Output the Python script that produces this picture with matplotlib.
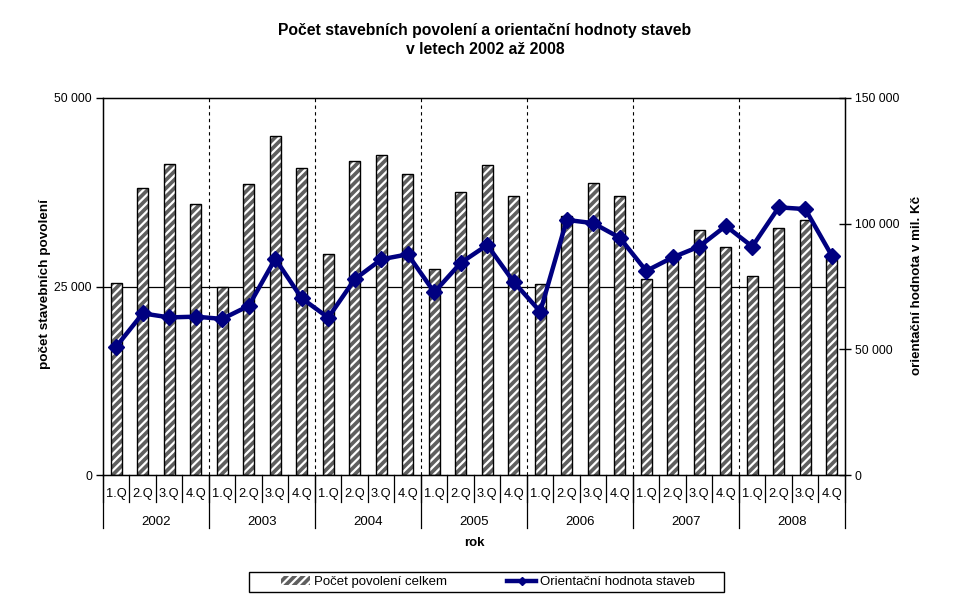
import matplotlib
matplotlib.use("Agg")
import matplotlib.pyplot as plt
import matplotlib.transforms as mtransforms
from matplotlib.ticker import FuncFormatter
from matplotlib.patches import Patch, Rectangle
from matplotlib.lines import Line2D

plt.rcParams['font.family'] = ['Liberation Sans', 'DejaVu Sans']
plt.rcParams['hatch.linewidth'] = 1.6

years = ["2002", "2003", "2004", "2005", "2006", "2007", "2008"]
quarters = ["1.Q", "2.Q", "3.Q", "4.Q"]

povoleni = [25400, 38000, 41200, 35900,
            24900, 38600, 44900, 40700,
            29300, 41700, 42500, 39900,
            27300, 37500, 41100, 37000,
            25300, 34400, 38700, 37000,
            26000, 28600, 32500, 30200,
            26400, 32800, 33800, 29000]

hodnota = [51100, 64300, 62700, 63000,
           62100, 67300, 86000, 70300,
           62600, 77900, 85800, 87800,
           72700, 84400, 91500, 76800,
           65000, 101500, 100200, 94400,
           81200, 86600, 90900, 99100,
           90900, 106500, 105800, 87300]

title = "Počet stavebních povolení a orientační hodnoty staveb\nv letech 2002 až 2008"
ylabel_left = "počet stavebních povolení"
ylabel_right = "orientační hodnota v mil. Kč"
xlabel = "rok"
legend_bar = "Počet povolení celkem"
legend_line = "Orientační hodnota staveb"

n = len(povoleni)
x = list(range(n))
nq = len(quarters)

fig = plt.figure(figsize=(9.7, 6.03), dpi=100)
ax = fig.add_axes([103/970, 1-475/603, (845-103)/970, (475-98)/603])

bar_color = '#5f5f5f'
ax.bar(x, povoleni, width=0.42, color=bar_color, edgecolor='white', hatch='////', linewidth=0, zorder=2)
ax.bar(x, povoleni, width=0.42, fill=False, edgecolor='black', linewidth=1.0, zorder=3)

ax.set_xlim(-0.5, n - 0.5)
ax.set_ylim(0, 50000)
ax.set_yticks([0, 25000, 50000])
fmt = FuncFormatter(lambda v, p: f"{int(v):,}".replace(",", " "))
ax.yaxis.set_major_formatter(fmt)
ax.tick_params(axis='y', direction='out', length=5, width=1, labelsize=8.8, pad=3)
ax.axhline(25000, color='black', linewidth=0.9, zorder=1)

for i in range(1, len(years)):
    ax.axvline(i*nq - 0.5, color='black', linewidth=0.8, linestyle=(0, (3, 3)), zorder=1)

ax.set_xticks([])
for s in ax.spines.values():
    s.set_linewidth(1.0)
    s.set_color('black')

ax2 = ax.twinx()
ax2.set_ylim(0, 150000)
ax2.set_yticks([0, 50000, 100000, 150000])
ax2.yaxis.set_major_formatter(fmt)
ax2.tick_params(axis='y', direction='inout', length=8, width=1, labelsize=8.8, pad=3)
ax2.plot(x, hodnota, color='#000080', linewidth=3.2, marker='D', markersize=8.5, zorder=5)
ax2.set_xlim(-0.5, n - 0.5)

trans = mtransforms.blended_transform_factory(ax.transData, ax.transAxes)
for i in range(n + 1):
    ax.plot([i - 0.5, i - 0.5], [0, -27/377], transform=trans, color='black', linewidth=0.9, clip_on=False)
for i in range(n):
    ax.text(i, -19/377, quarters[i % nq], transform=trans, ha='center', va='center', fontsize=9.3)
for j, yr in enumerate(years):
    b = j*nq - 0.5
    ax.plot([b, b], [0, -53/377], transform=trans, color='black', linewidth=0.9, clip_on=False)
    ax.text(j*nq + (nq-1)/2, -47/377, yr, transform=trans, ha='center', va='center', fontsize=9.5)
ax.plot([n - 0.5, n - 0.5], [0, -53/377], transform=trans, color='black', linewidth=0.9, clip_on=False)

ax.text(0.5, -68/377, xlabel, transform=ax.transAxes, ha='center', va='center', fontsize=9.5, fontweight='bold')
fig.text(45/970, 1-284/603, ylabel_left, rotation=90, ha='center', va='center', fontsize=9.7, fontweight='bold')
fig.text(917/970, 1-285/603, ylabel_right, rotation=90, ha='center', va='center', fontsize=9.6, fontweight='bold')
fig.text(485/970, 1-40/603, title, ha='center', va='center', fontsize=11.3, fontweight='bold', linespacing=1.3)

# legend frame
fig.patches.append(Rectangle((249/970, 1-592/603), (724-249)/970, 20/603, transform=fig.transFigure,
                             facecolor='white', edgecolor='black', linewidth=1.0))
handles = [Patch(facecolor=bar_color, edgecolor='white', hatch='////', linewidth=0),
           Line2D([0], [0], color='#000080', linewidth=3.2, marker='D', markersize=4.5)]
leg = fig.legend(handles, [legend_bar, legend_line], loc='center', bbox_to_anchor=(488/970, 1-582/603),
                 ncol=2, fontsize=9.5, frameon=False,
                 handlelength=2.2, handletextpad=0.25, columnspacing=4.6, borderpad=0.2)

fig.savefig("out.png", dpi=100)
